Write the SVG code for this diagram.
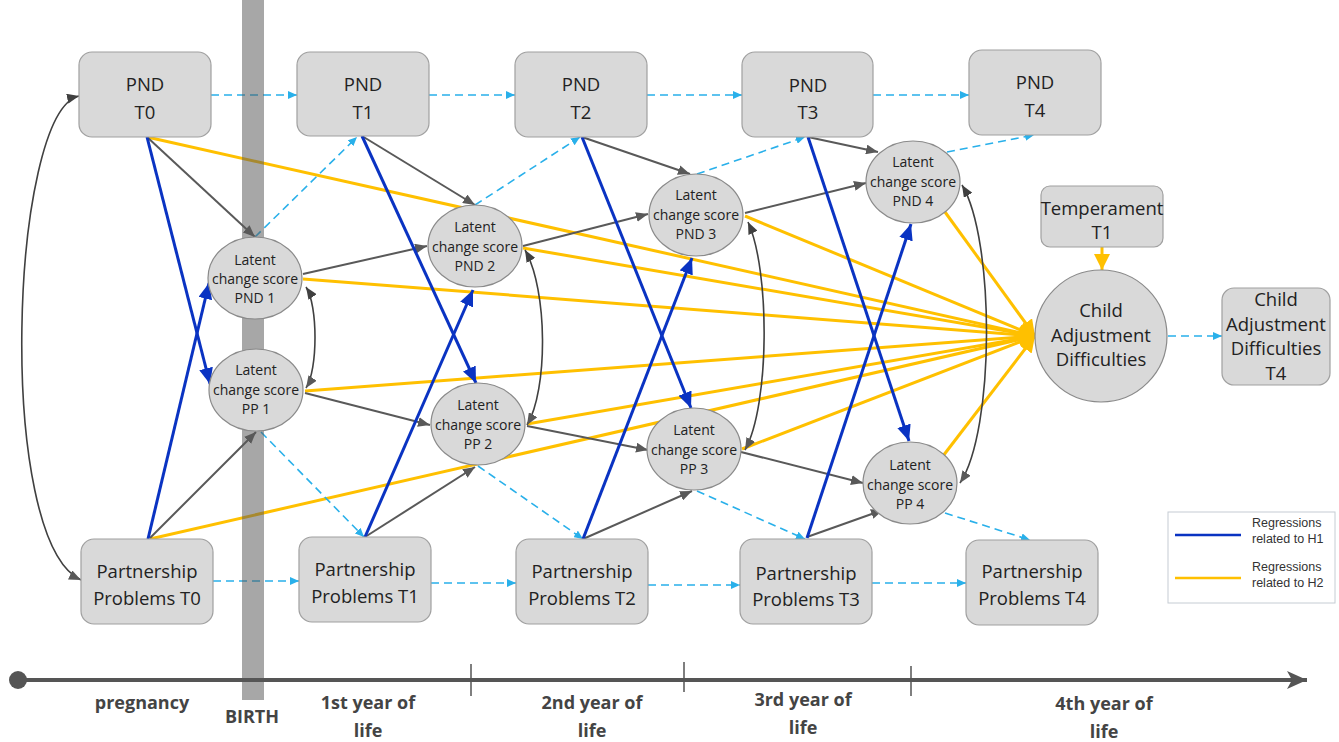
<svg xmlns="http://www.w3.org/2000/svg" width="1339" height="742" viewBox="0 0 1339 742">
<style>
.box{fill:#d9d9d9;stroke:#a0a0a0;stroke-width:1.2}
.ell{fill:#d9d9d9;stroke:#8a8a8a;stroke-width:1.2}
.t{font-family:"Open Sans","Liberation Sans",sans-serif;font-size:18.5px;fill:#222;text-anchor:middle}
.s{font-family:"Open Sans","Liberation Sans",sans-serif;font-size:14px;fill:#222;text-anchor:middle}
.tl{font-family:"Open Sans","Liberation Sans",sans-serif;font-size:18px;font-weight:bold;fill:#444;text-anchor:middle}
.lg{font-family:"Liberation Sans",Arial,sans-serif;font-size:12.5px;fill:#333}
.dk{stroke:#595959;stroke-width:2;fill:none;marker-end:url(#mDk)}
.cv{stroke:#404040;stroke-width:1.6;fill:none;marker-end:url(#mDk);marker-start:url(#mDkS)}
.bl{stroke:#0a33c2;stroke-width:3;fill:none;marker-end:url(#mBl)}
.yl{stroke:#ffc000;stroke-width:3;fill:none;marker-end:url(#mYl)}
.lb{stroke:#29b0ea;stroke-width:1.6;fill:none;stroke-dasharray:8,5;marker-end:url(#mLb)}
</style>
<defs>
<marker id="mDk" markerUnits="userSpaceOnUse" markerWidth="12" markerHeight="10" refX="12" refY="5" orient="auto"><path d="M0,0 L12,5 L0,10 z" fill="#595959"/></marker>
<marker id="mDkS" markerUnits="userSpaceOnUse" markerWidth="12" markerHeight="10" refX="12" refY="5" orient="auto-start-reverse"><path d="M0,0 L12,5 L0,10 z" fill="#404040"/></marker>
<marker id="mBl" markerUnits="userSpaceOnUse" markerWidth="16" markerHeight="14" refX="16" refY="7" orient="auto"><path d="M0,0 L16,7 L0,14 z" fill="#0a33c2"/></marker>
<marker id="mYl" markerUnits="userSpaceOnUse" markerWidth="16" markerHeight="16" refX="16" refY="8" orient="auto"><path d="M0,0 L16,8 L0,16 z" fill="#ffc000"/></marker>
<marker id="mLb" markerUnits="userSpaceOnUse" markerWidth="9" markerHeight="8" refX="9" refY="4" orient="auto"><path d="M0,0 L9,4 L0,8 z" fill="#29b0ea"/></marker>
<marker id="mAx" markerUnits="userSpaceOnUse" markerWidth="20" markerHeight="18" refX="20" refY="9" orient="auto"><path d="M0,0 L20,9 L0,18 L5,9 z" fill="#555"/></marker>
</defs>
<rect width="1339" height="742" fill="#fff"/>

<g id="connectors">
<path class="yl" d="M147,137 L1035,336"/>
<path class="yl" d="M303,279 L1035,336"/>
<path class="yl" d="M305,391 L1035,336"/>
<path class="yl" d="M150,539 L1035,336"/>
<path class="yl" d="M523,248 L1035,336"/>
<path class="yl" d="M527,424 L1035,336"/>
<path class="yl" d="M745,216 L1035,336"/>
<path class="yl" d="M742,449 L1035,336"/>
<path class="yl" d="M945,212 L1035,336"/>
<path class="yl" d="M943,456 L1035,336"/>
<path class="yl" d="M1102,247 L1102,270"/>
<path class="lb" d="M211,95 L297,95"/>
<path class="lb" d="M429,95 L515,95"/>
<path class="lb" d="M647,95 L742,95"/>
<path class="lb" d="M873,95 L969,95"/>
<path class="lb" d="M213,581 L299,581"/>
<path class="lb" d="M431,583 L516,583"/>
<path class="lb" d="M648,585 L740,585"/>
<path class="lb" d="M872,583 L966,583"/>
<path class="lb" d="M255,237 L357,137"/>
<path class="lb" d="M475,205 L580,137"/>
<path class="lb" d="M697,174 L805,137"/>
<path class="lb" d="M947,152 L1034,135"/>
<path class="lb" d="M261,432 L364,537"/>
<path class="lb" d="M478,466 L583,539"/>
<path class="lb" d="M697,491 L805,539"/>
<path class="lb" d="M945,513 L1030,540"/>
<path class="lb" d="M1168,336 L1222,336" stroke-width="1.3" stroke-dasharray="4,3"/>
<path class="dk" d="M147,137 L255,237"/>
<path class="dk" d="M362,136 L475,205"/>
<path class="dk" d="M582,137 L690,174"/>
<path class="dk" d="M808,137 L878,152"/>
<path class="dk" d="M303,274 L427,246"/>
<path class="dk" d="M523,246 L648,214"/>
<path class="dk" d="M745,213 L866,183"/>
<path class="dk" d="M305,393 L430,425"/>
<path class="dk" d="M527,426 L648,450"/>
<path class="dk" d="M741,452 L863,483"/>
<path class="dk" d="M150,538 L256,432"/>
<path class="dk" d="M365,537 L475,467"/>
<path class="dk" d="M583,539 L692,491"/>
<path class="dk" d="M807,537 L883,510"/>
<path class="cv" d="M306,287 C318,305 318,370 306,388"/>
<path class="cv" d="M525,250 C548,290 548,390 527,425"/>
<path class="cv" d="M748,222 C770,270 770,405 745,450"/>
<path class="cv" d="M962,185 C995,240 995,430 960,483"/>
<path class="cv" d="M79,96 C10,112 -5,540 81,580"/>
<path class="bl" d="M147,137 L210,384"/>
<path class="bl" d="M148,539 L209,283"/>
<path class="bl" d="M362,136 L476,383"/>
<path class="bl" d="M365,537 L473,290"/>
<path class="bl" d="M582,137 L691,408"/>
<path class="bl" d="M583,539 L692,258"/>
<path class="bl" d="M808,137 L909,441"/>
<path class="bl" d="M807,538 L911,224"/>
</g>

<rect id="birth-bar" x="242" y="0" width="22" height="700" fill="#595959" fill-opacity="0.53"/>

<g id="pnd-t0"><rect class="box" x="79" y="52" width="132" height="85" rx="13"/><text class="t" x="145" y="91">PND</text><text class="t" x="145" y="119">T0</text></g>
<g id="pnd-t1"><rect class="box" x="297" y="52" width="132" height="84" rx="13"/><text class="t" x="363" y="91">PND</text><text class="t" x="363" y="119">T1</text></g>
<g id="pnd-t2"><rect class="box" x="515" y="52" width="132" height="85" rx="13"/><text class="t" x="581" y="91">PND</text><text class="t" x="581" y="119">T2</text></g>
<g id="pnd-t3"><rect class="box" x="742" y="52" width="131" height="85" rx="13"/><text class="t" x="808" y="92">PND</text><text class="t" x="808" y="119">T3</text></g>
<g id="pnd-t4"><rect class="box" x="969" y="50" width="132" height="85" rx="13"/><text class="t" x="1035" y="89">PND</text><text class="t" x="1035" y="117">T4</text></g>

<g id="pp-t0"><rect class="box" x="81" y="539" width="132" height="85" rx="13"/><text class="t" x="147" y="578">Partnership</text><text class="t" x="147" y="605">Problems T0</text></g>
<g id="pp-t1"><rect class="box" x="299" y="537" width="132" height="85" rx="13"/><text class="t" x="365" y="576">Partnership</text><text class="t" x="365" y="603">Problems T1</text></g>
<g id="pp-t2"><rect class="box" x="516" y="539" width="132" height="85" rx="13"/><text class="t" x="582" y="578">Partnership</text><text class="t" x="582" y="605">Problems T2</text></g>
<g id="pp-t3"><rect class="box" x="740" y="539" width="132" height="85" rx="13"/><text class="t" x="806" y="580">Partnership</text><text class="t" x="806" y="606">Problems T3</text></g>
<g id="pp-t4"><rect class="box" x="966" y="540" width="132" height="85" rx="13"/><text class="t" x="1032" y="578">Partnership</text><text class="t" x="1032" y="605">Problems T4</text></g>

<g id="lcs-pnd1"><ellipse class="ell" cx="255" cy="278" rx="47" ry="41"/><text class="s" x="255" y="265">Latent</text><text class="s" x="255" y="284">change score</text><text class="s" x="255" y="303">PND 1</text></g>
<g id="lcs-pp1"><ellipse class="ell" cx="256" cy="390" rx="47" ry="41"/><text class="s" x="256" y="375">Latent</text><text class="s" x="256" y="395">change score</text><text class="s" x="256" y="414">PP 1</text></g>
<g id="lcs-pnd2"><ellipse class="ell" cx="475" cy="246" rx="47" ry="41"/><text class="s" x="475" y="232">Latent</text><text class="s" x="475" y="252">change score</text><text class="s" x="475" y="271">PND 2</text></g>
<g id="lcs-pp2"><ellipse class="ell" cx="478" cy="424" rx="47" ry="41"/><text class="s" x="478" y="410">Latent</text><text class="s" x="478" y="430">change score</text><text class="s" x="478" y="449">PP 2</text></g>
<g id="lcs-pnd3"><ellipse class="ell" cx="696" cy="215" rx="47" ry="41"/><text class="s" x="696" y="200">Latent</text><text class="s" x="696" y="220">change score</text><text class="s" x="696" y="239">PND 3</text></g>
<g id="lcs-pp3"><ellipse class="ell" cx="694" cy="449" rx="47" ry="41"/><text class="s" x="694" y="435">Latent</text><text class="s" x="694" y="455">change score</text><text class="s" x="694" y="474">PP 3</text></g>
<g id="lcs-pnd4"><ellipse class="ell" cx="913" cy="182" rx="47" ry="41"/><text class="s" x="913" y="167">Latent</text><text class="s" x="913" y="187">change score</text><text class="s" x="913" y="206">PND 4</text></g>
<g id="lcs-pp4"><ellipse class="ell" cx="910" cy="483" rx="47" ry="41"/><text class="s" x="910" y="470">Latent</text><text class="s" x="910" y="490">change score</text><text class="s" x="910" y="509">PP 4</text></g>

<g id="temperament"><rect class="box" x="1041" y="186" width="122" height="61" rx="9"/><text class="t" x="1102" y="215">Temperament</text><text class="t" x="1102" y="239">T1</text></g>
<g id="child-adj"><circle class="ell" cx="1101" cy="336" r="66"/><text class="t" x="1101" y="317">Child</text><text class="t" x="1101" y="342">Adjustment</text><text class="t" x="1101" y="366">Difficulties</text></g>
<g id="child-adj-t4"><rect class="box" x="1222" y="288" width="108" height="97" rx="12"/><text class="t" x="1276" y="306">Child</text><text class="t" x="1276" y="331">Adjustment</text><text class="t" x="1276" y="355">Difficulties</text><text class="t" x="1276" y="380">T4</text></g>

<g id="legend">
<rect x="1168" y="512" width="167" height="91" fill="#fff" stroke="#c5ccd3" stroke-width="1"/>
<line x1="1175" y1="535" x2="1241" y2="535" stroke="#0a33c2" stroke-width="2.5"/>
<line x1="1175" y1="578" x2="1241" y2="578" stroke="#ffc000" stroke-width="2.5"/>
<text class="lg" x="1252" y="527">Regressions</text><text class="lg" x="1252" y="543">related to H1</text>
<text class="lg" x="1252" y="571">Regressions</text><text class="lg" x="1252" y="587">related to H2</text>
</g>

<g id="timeline">
<line x1="18" y1="680" x2="1307" y2="680" stroke="#555" stroke-width="4" marker-end="url(#mAx)"/>
<circle cx="18" cy="680" r="9" fill="#555"/>
<line x1="471" y1="664" x2="471" y2="696" stroke="#555" stroke-width="1.5"/>
<line x1="684" y1="662" x2="684" y2="692" stroke="#555" stroke-width="1.5"/>
<line x1="911" y1="666" x2="911" y2="696" stroke="#555" stroke-width="1.5"/>
<text class="tl" x="142" y="709">pregnancy</text>
<text class="tl" x="252" y="723">BIRTH</text>
<text class="tl" x="368" y="709">1st year of</text><text class="tl" x="368" y="737">life</text>
<text class="tl" x="592" y="709">2nd year of</text><text class="tl" x="592" y="737">life</text>
<text class="tl" x="803" y="706">3rd year of</text><text class="tl" x="803" y="734">life</text>
<text class="tl" x="1104" y="710">4th year of</text><text class="tl" x="1104" y="738">life</text>
</g>
</svg>
